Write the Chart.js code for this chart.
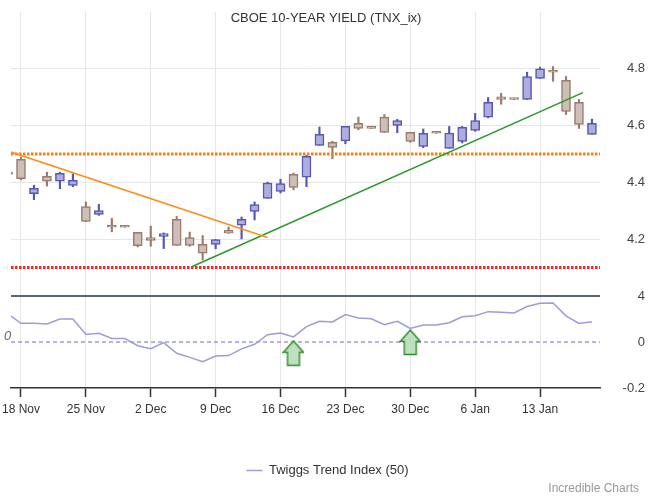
<!DOCTYPE html>
<html>
<head>
<meta charset="utf-8">
<script src="https://cdn.jsdelivr.net/npm/chart.js@4.4.1/dist/chart.umd.min.js"></script>
<style>
  html, body { margin: 0; padding: 0; background: #fff; }
</style>
</head>
<body>
<canvas id="grafico" width="650" height="500"></canvas>
<script>
// dias de negociação (índice = posição no eixo x)
const dates = ['15 Nov','18 Nov','19 Nov','20 Nov','21 Nov','22 Nov','25 Nov','26 Nov','27 Nov','28 Nov','29 Nov',
  '2 Dec','3 Dec','4 Dec','5 Dec','6 Dec','9 Dec','10 Dec','11 Dec','12 Dec','13 Dec',
  '16 Dec','17 Dec','18 Dec','19 Dec','20 Dec','23 Dec','24 Dec','25 Dec','26 Dec','27 Dec',
  '30 Dec','31 Dec','1 Jan','2 Jan','3 Jan','6 Jan','7 Jan','8 Jan','9 Jan','10 Jan',
  '13 Jan','14 Jan','15 Jan','16 Jan','17 Jan'];

const opens  = [4.428,4.481,4.360,4.421,4.404,4.389,4.315,4.287,4.249,4.242,4.224,4.206,4.210,4.270,4.206,4.182,
  4.182,4.231,4.249,4.298,4.344,4.368,4.428,4.418,4.530,4.541,4.546,4.608,4.590,4.630,4.601,4.576,4.527,4.573,
  4.520,4.544,4.583,4.630,4.701,4.692,4.692,4.766,4.788,4.759,4.682,4.569];
const highs  = [4.428,4.489,4.390,4.436,4.436,4.430,4.331,4.323,4.274,4.242,4.224,4.246,4.222,4.280,4.225,4.213,
  4.199,4.243,4.278,4.331,4.401,4.411,4.433,4.495,4.595,4.545,4.597,4.630,4.590,4.639,4.622,4.576,4.588,4.573,
  4.597,4.597,4.643,4.699,4.714,4.692,4.788,4.806,4.808,4.773,4.692,4.623];
const lows   = [4.428,4.409,4.339,4.387,4.378,4.385,4.262,4.284,4.226,4.242,4.173,4.175,4.167,4.178,4.175,4.127,
  4.166,4.221,4.201,4.268,4.344,4.363,4.374,4.385,4.530,4.483,4.536,4.585,4.590,4.576,4.575,4.541,4.522,4.573,
  4.520,4.539,4.580,4.627,4.675,4.692,4.692,4.766,4.756,4.639,4.590,4.569];
const closes = [4.428,4.413,4.379,4.404,4.432,4.407,4.263,4.301,4.242,4.242,4.177,4.196,4.220,4.178,4.178,4.151,
  4.199,4.221,4.270,4.322,4.398,4.396,4.382,4.492,4.569,4.523,4.597,4.590,4.590,4.576,4.618,4.544,4.573,4.573,
  4.574,4.594,4.618,4.682,4.692,4.692,4.773,4.800,4.788,4.650,4.604,4.608];

// Twiggs Trend Index (50)
const trend = [0.122,0.081,0.081,0.078,0.100,0.100,0.033,0.038,0.015,0.015,-0.016,-0.029,-0.003,-0.049,-0.067,-0.086,
  -0.061,-0.059,-0.030,-0.010,0.032,0.039,0.022,0.067,0.090,0.087,0.119,0.104,0.101,0.075,0.090,0.059,0.074,0.074,
  0.084,0.110,0.114,0.132,0.129,0.126,0.154,0.168,0.170,0.114,0.081,0.088];

// sinais de compra (setas)
const sinalIdx = [22, 31];
const sinalVal = [-0.049, -0.002];

// linhas de tendência e níveis
const laranjaX = [0, 20];
const laranjaY = [4.51, 4.206];
const verdeX = [14.2, 44.3];
const verdeY = [4.104, 4.716];
const nivelLaranja = 4.50;
const nivelVermelho = 4.10;

// eixos
const tickIdx = [1, 6, 11, 16, 21, 26, 31, 36, 41];
const precoTicks = [4.0, 4.2, 4.4, 4.6, 4.8];
const indTicks = [-0.2, 0];
const xMin = 0.23, xMax = 45.62;

const titulo = 'CBOE 10-YEAR YIELD (TNX_ix)';
const fonte = '"Liberation Sans", Arial, sans-serif';

const subida = { fill: '#aeaedc', line: '#5656b4' };
const descida = { fill: '#cdbeb7', line: '#9a7b6c' };
const sobe = closes.map((c, i) => c > opens[i]);

// seta verde desenhada num canvas para usar como pointStyle
const seta = document.createElement('canvas');
seta.width = 22; seta.height = 27;
(function () {
  const c = seta.getContext('2d');
  c.beginPath();
  c.moveTo(11, 1); c.lineTo(21, 12.5); c.lineTo(17, 12.5); c.lineTo(17, 25.5);
  c.lineTo(5, 25.5); c.lineTo(5, 12.5); c.lineTo(1, 12.5); c.closePath();
  c.fillStyle = '#bfe0bf'; c.fill();
  c.lineWidth = 1.4; c.strokeStyle = '#2e8b2e'; c.stroke();
})();

const textos = {
  id: 'textos',
  afterDraw(chart) {
    const c = chart.ctx;
    c.save();
    c.textBaseline = 'middle';
    c.font = '13px ' + fonte;
    c.fillStyle = '#333';
    c.textAlign = 'center';
    c.fillText(titulo, chart.width / 2 + 1, 18);
    c.font = '12px ' + fonte;
    c.fillStyle = '#999';
    c.textAlign = 'right';
    c.fillText('Incredible Charts', 639, 489);
    const y0 = chart.scales.y2.getPixelForValue(0);
    c.font = 'italic 13px ' + fonte;
    c.fillStyle = '#666';
    c.textAlign = 'left';
    c.fillText('0', 4, y0 - 6);
    c.restore();
  }
};

const ctx = document.getElementById('grafico').getContext('2d');
const grafico = new Chart(ctx, {
  type: 'bar',
  data: {
    datasets: [
      {
        label: 'pavio',
        data: dates.map((d, i) => ({ x: i, y: [lows[i], highs[i]] })),
        backgroundColor: sobe.map(s => s ? subida.line : descida.line),
        barThickness: 1.5,
        grouped: false,
        minBarLength: 1,
        clip: 0,
        order: 3
      },
      {
        label: 'corpo',
        data: dates.map((d, i) => ({ x: i, y: [opens[i], closes[i]] })),
        backgroundColor: sobe.map(s => s ? subida.fill : descida.fill),
        borderColor: sobe.map(s => s ? subida.line : descida.line),
        borderWidth: 1.5,
        borderSkipped: false,
        barThickness: 9,
        grouped: false,
        minBarLength: 2,
        clip: 0,
        order: 2
      },
      {
        type: 'line', label: 'nivel laranja',
        data: [{ x: xMin, y: nivelLaranja }, { x: xMax, y: nivelLaranja }],
        borderColor: '#ff8000', borderWidth: 3, borderDash: [2.5, 1.5], pointRadius: 0, clip: 0, order: 1
      },
      {
        type: 'line', label: 'nivel vermelho',
        data: [{ x: xMin, y: nivelVermelho }, { x: xMax, y: nivelVermelho }],
        borderColor: '#ff2222', borderWidth: 3, borderDash: [2.5, 1.5], pointRadius: 0, clip: 0, order: 1
      },
      {
        type: 'line', label: 'tendencia baixa',
        data: laranjaX.map((x, i) => ({ x: x, y: laranjaY[i] })),
        borderColor: '#ff8c1a', borderWidth: 1.5, pointRadius: 0, clip: 0, order: 0
      },
      {
        type: 'line', label: 'tendencia alta',
        data: verdeX.map((x, i) => ({ x: x, y: verdeY[i] })),
        borderColor: '#2a992a', borderWidth: 1.5, pointRadius: 0, clip: 0, order: 0
      },
      {
        type: 'line', label: 'Twiggs Trend Index (50)',
        yAxisID: 'y2',
        data: trend.map((v, i) => ({ x: i, y: v })),
        borderColor: '#9c9cd8', borderWidth: 1.5, pointRadius: 0, tension: 0, clip: 0, order: 0
      },
      {
        type: 'line', label: 'zero',
        yAxisID: 'y2',
        data: [{ x: xMin, y: 0 }, { x: xMax, y: 0 }],
        borderColor: '#6a6acc', borderWidth: 1, borderDash: [4, 3], pointRadius: 0, clip: 0, order: 1
      },
      {
        type: 'line', label: 'sinal',
        yAxisID: 'y2',
        data: sinalIdx.map((x, i) => ({ x: x, y: sinalVal[i] })),
        showLine: false, pointStyle: seta, pointRadius: 10, order: 0
      }
    ]
  },
  options: {
    responsive: false,
    animation: false,
    layout: { padding: { left: 10, right: 5, top: 12, bottom: 13 } },
    plugins: {
      tooltip: { enabled: false },
      legend: {
        position: 'bottom',
        labels: {
          filter: item => item.text === 'Twiggs Trend Index (50)',
          usePointStyle: true,
          pointStyle: 'line',
          pointStyleWidth: 16,
          padding: 10,
          color: '#333',
          font: { size: 13, family: fonte }
        }
      }
    },
    scales: {
      x: {
        type: 'linear',
        min: xMin, max: xMax,
        offset: false,
        afterBuildTicks: s => { s.ticks = tickIdx.map(v => ({ value: v })); },
        afterFit: s => { s.height = 66; s.paddingLeft = 0; s.paddingRight = 0; },
        ticks: {
          autoSkip: false, maxRotation: 0, padding: 5,
          color: '#333', font: { size: 12, family: fonte },
          callback: v => dates[v]
        },
        grid: { offset: false, color: '#e6e6e6', tickColor: '#333', tickLength: 9, tickWidth: 1.5 },
        border: { color: '#333', width: 1.5 }
      },
      y: {
        position: 'right',
        stack: 'painel', stackWeight: 284,
        min: 4.0, max: 5.0,
        afterBuildTicks: s => { s.ticks = precoTicks.map(v => ({ value: v })); },
        afterFit: s => { s.width = 45; },
        ticks: {
          crossAlign: 'far', color: '#444', font: { size: 13, family: fonte },
          callback: v => String(Number(v.toFixed(1)))
        },
        grid: {
          drawTicks: false,
          color: c => (c.tick && c.tick.value === 4 ? '#56657a' : '#e6e6e6'),
          lineWidth: c => (c.tick && c.tick.value === 4 ? 2 : 1)
        },
        border: { display: false }
      },
      y2: {
        position: 'right',
        stack: 'painel', stackWeight: 92,
        min: -0.2, max: 0.2,
        afterBuildTicks: s => { s.ticks = indTicks.map(v => ({ value: v })); },
        afterFit: s => { s.width = 45; },
        ticks: {
          crossAlign: 'far', color: '#444', font: { size: 13, family: fonte },
          callback: v => String(Number(v.toFixed(1)))
        },
        grid: { display: false, drawTicks: false },
        border: { display: false }
      }
    }
  },
  plugins: [textos]
});
</script>
</body>
</html>
